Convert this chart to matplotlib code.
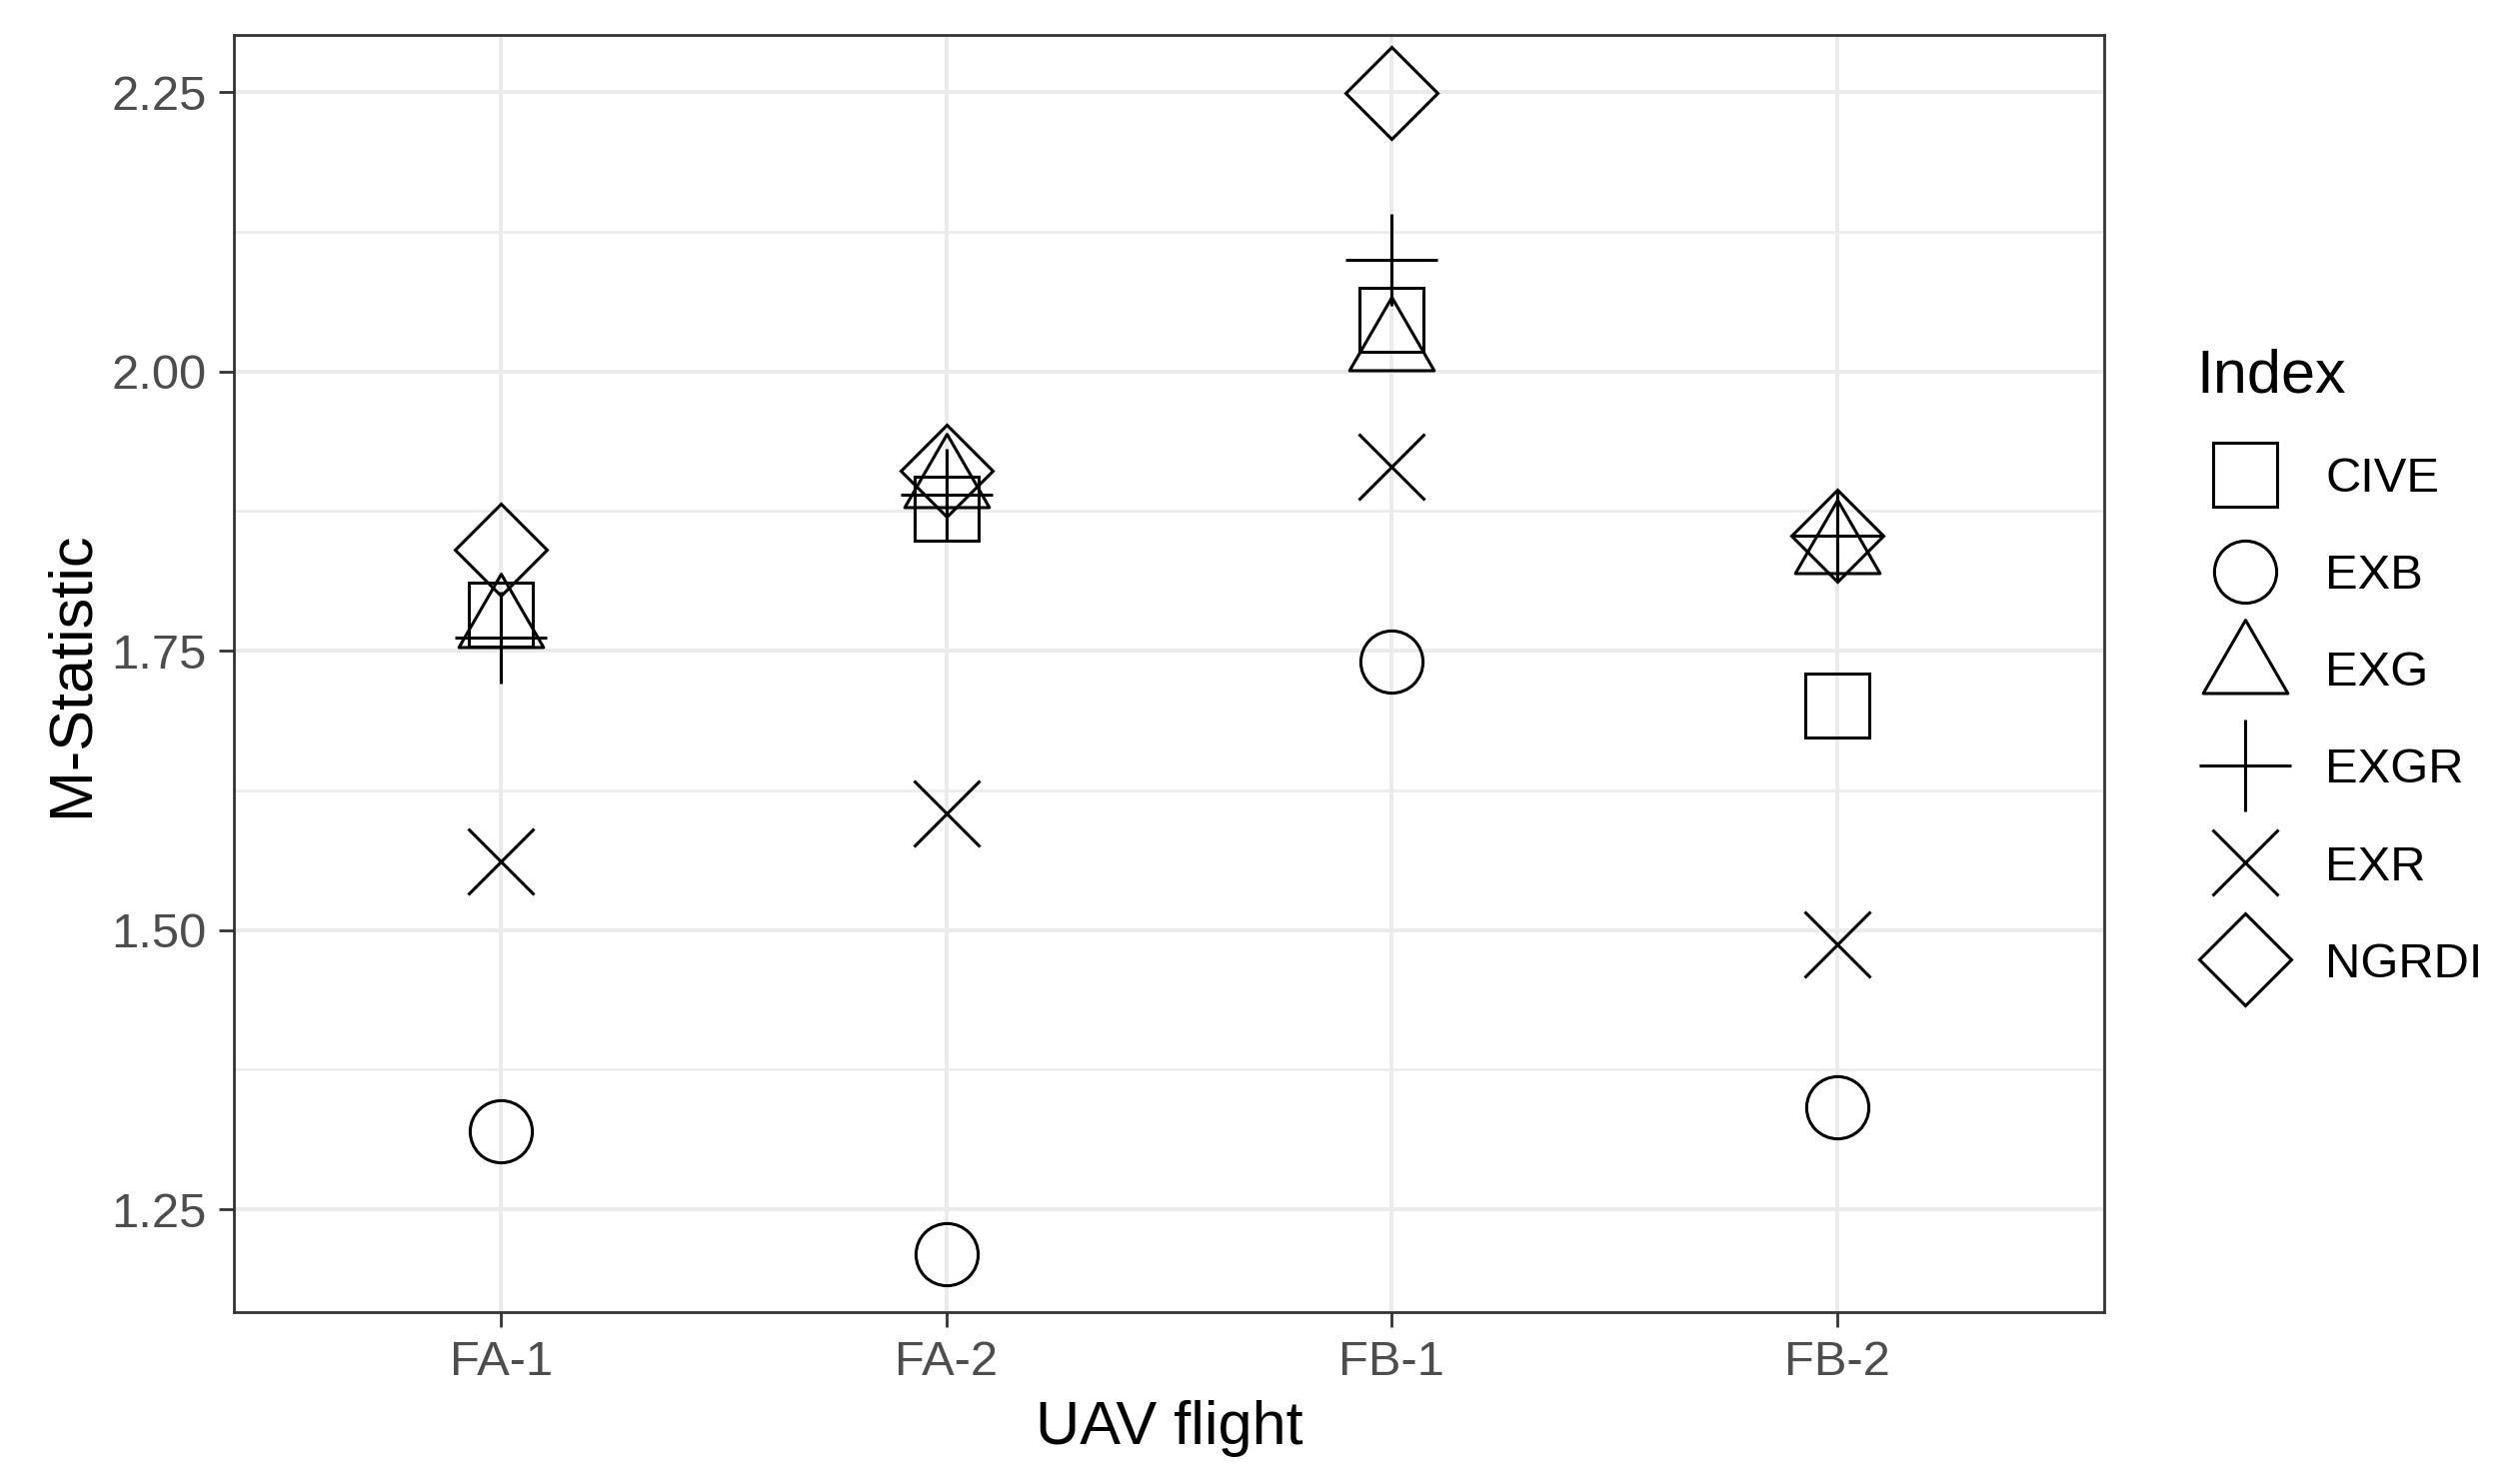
import matplotlib
matplotlib.use("Agg")
import matplotlib.pyplot as plt
from matplotlib.path import Path
from matplotlib.ticker import AutoMinorLocator
import numpy as np

plt.rcParams["font.family"] = ["Liberation Sans", "DejaVu Sans"]

# M-statistic per UAV flight and colour index
flights = ["FA-1", "FA-2", "FB-1", "FB-2"]
index_names = ["CIVE", "EXB", "EXG", "EXGR", "EXR", "NGRDI"]
cive = [1.782, 1.877, 2.046, 1.701]
exb = [1.320, 1.210, 1.740, 1.341]
exg = [1.775, 1.900, 2.023, 1.841]
exgr = [1.762, 1.890, 2.100, 1.853]
exr = [1.561, 1.604, 1.915, 1.487]
ngrdi = [1.840, 1.911, 2.249, 1.853]
series = [cive, exb, exg, exgr, exr, ngrdi]

# R-style open triangle (pch 2), centred on the circumcentre
tri = Path([(0, 1.555), (1.347, -0.778), (-1.347, -0.778), (0, 1.555)], closed=True)
markers = ["s", "o", tri, "+", "x", "D"]
sizes = [11.5, 11.2, 17.6, 16.7, 12.0, 11.7]

fig = plt.figure(figsize=(6.24, 3.7125), dpi=400)
ax = fig.add_axes([0.0938, 0.1158, 0.8434 - 0.0938, 0.9764 - 0.1158])

xpos = np.arange(1, len(flights) + 1)
handles = []
for name, vals, m, ms in zip(index_names, series, markers, sizes):
    (h,) = ax.plot(xpos, vals, linestyle="none", marker=m, ms=ms,
                   mfc="none", mec="black", mew=0.55, label=name, zorder=3)
    handles.append(h)

allv = np.concatenate([np.asarray(s) for s in series])
lo, hi = allv.min(), allv.max()
pad = 0.05 * (hi - lo)
ax.set_ylim(lo - pad, hi + pad)
ax.set_xlim(0.4, len(flights) + 0.6)

ax.set_xticks(xpos)
ax.set_xticklabels(flights)
ax.set_yticks([1.25, 1.50, 1.75, 2.00, 2.25])
ax.yaxis.set_minor_locator(AutoMinorLocator(2))

ax.grid(which="major", color="#EBEBEB", lw=0.72, zorder=0)
ax.grid(which="minor", axis="y", color="#EBEBEB", lw=0.45, zorder=0)
ax.set_axisbelow(True)

for sp in ax.spines.values():
    sp.set_color("#333333")
    sp.set_linewidth(0.5)

ax.tick_params(which="major", length=2.75, width=0.5, color="#333333",
               labelcolor="#4D4D4D", labelsize=8.8, pad=2.2)
ax.tick_params(which="minor", length=0)

ax.set_xlabel("UAV flight", fontsize=11, labelpad=2.75)
ax.set_ylabel("M-Statistic", fontsize=11, labelpad=2.0)

fig.legend(handles, index_names, loc="upper left", bbox_to_anchor=(0.8704, 0.782),
           frameon=False, title="Index", title_fontsize=11, fontsize=8.8,
           borderpad=0, labelspacing=1.065, handlelength=2.0, handletextpad=0.64,
           alignment="left", numpoints=1)

fig.savefig("out.png", dpi=400, facecolor="white")
